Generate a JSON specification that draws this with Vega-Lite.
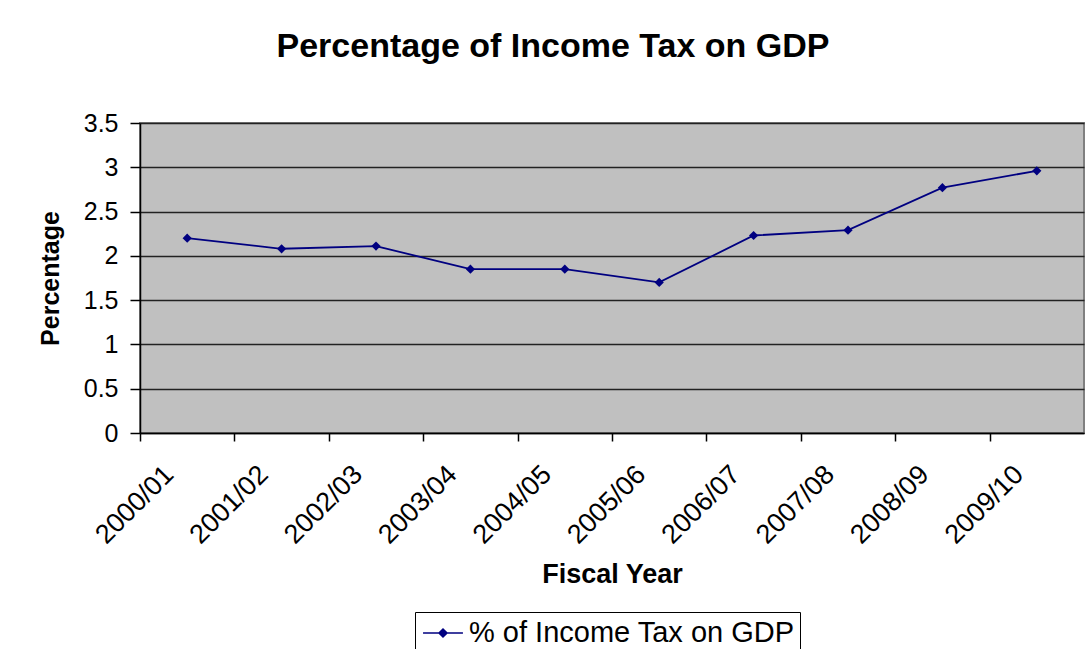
{
  "$schema": "https://vega.github.io/schema/vega-lite/v6.json",
  "width": 944,
  "height": 310,
  "autosize": {"type": "none"},
  "padding": {"left": 140, "top": 123, "right": 5, "bottom": 216},
  "background": "white",
  "title": {
    "text": "Percentage of Income Tax on GDP",
    "font": "Liberation Sans",
    "fontSize": 34,
    "fontWeight": "bold",
    "color": "black",
    "anchor": "middle",
    "dx": -59,
    "offset": 47
  },
  "data": {
    "values": [
      {"year": "2000/01", "value": 2.20, "series": "% of Income Tax on GDP"},
      {"year": "2001/02", "value": 2.08, "series": "% of Income Tax on GDP"},
      {"year": "2002/03", "value": 2.11, "series": "% of Income Tax on GDP"},
      {"year": "2003/04", "value": 1.85, "series": "% of Income Tax on GDP"},
      {"year": "2004/05", "value": 1.85, "series": "% of Income Tax on GDP"},
      {"year": "2005/06", "value": 1.70, "series": "% of Income Tax on GDP"},
      {"year": "2006/07", "value": 2.23, "series": "% of Income Tax on GDP"},
      {"year": "2007/08", "value": 2.29, "series": "% of Income Tax on GDP"},
      {"year": "2008/09", "value": 2.77, "series": "% of Income Tax on GDP"},
      {"year": "2009/10", "value": 2.96, "series": "% of Income Tax on GDP"}
    ]
  },
  "mark": {"type": "line", "strokeWidth": 1.8, "point": {"shape": "diamond", "size": 85, "filled": true, "opacity": 1}},
  "encoding": {
    "x": {
      "field": "year",
      "type": "ordinal",
      "scale": {"type": "band", "paddingInner": 0, "paddingOuter": 0},
      "axis": {
        "title": "Fiscal Year",
        "titleFont": "Liberation Sans",
        "titleFontSize": 27,
        "titleFontWeight": "bold",
        "titleColor": "black",
        "titlePadding": 13,
        "labelAngle": -45,
        "labelAlign": "right",
        "labelBaseline": "middle",
        "labelFont": "Liberation Sans",
        "labelFontSize": 27,
        "labelColor": "black",
        "labelPadding": 29,
        "labelOffset": 29,
        "tickOffset": -47.2,
        "tickSize": 8,
        "tickColor": "black",
        "tickWidth": 1.5,
        "domainColor": "black",
        "domainWidth": 1.5,
        "grid": false
      }
    },
    "y": {
      "field": "value",
      "type": "quantitative",
      "scale": {"domain": [0, 3.5], "nice": false},
      "axis": {
        "title": "Percentage",
        "titleFont": "Liberation Sans",
        "titleFontSize": 25,
        "titleFontWeight": "bold",
        "titleColor": "black",
        "titlePadding": 20,
        "values": [0, 0.5, 1, 1.5, 2, 2.5, 3, 3.5],
        "format": "~g",
        "labelFont": "Liberation Sans",
        "labelFontSize": 25,
        "labelColor": "black",
        "labelPadding": 12,
        "tickSize": 10,
        "tickColor": "black",
        "tickWidth": 1.5,
        "domainColor": "black",
        "domainWidth": 1.5,
        "grid": true,
        "gridColor": "#222222",
        "gridWidth": 1.5,
        "gridOpacity": 1
      }
    },
    "color": {
      "field": "series",
      "type": "nominal",
      "scale": {"range": ["#000080"]},
      "legend": {
        "title": null,
        "orient": "none",
        "legendX": 275,
        "legendY": 489,
        "strokeColor": "black",
        "padding": 5,
        "symbolType": "M-1.33,0H-0.27M0.27,0H1.33M-0.27,0L0,-0.27L0.27,0L0,0.27Z",
        "symbolSize": 900,
        "symbolOffset": 7,
        "symbolStrokeWidth": 1.5,
        "symbolFillColor": "#000080",
        "symbolStrokeColor": "#000080",
        "labelFont": "Liberation Sans",
        "labelFontSize": 29,
        "labelColor": "black",
        "labelLimit": 500,
        "labelOffset": 10
      }
    }
  },
  "config": {
    "view": {"fill": "#C0C0C0", "stroke": "#808080", "strokeWidth": 2}
  }
}
